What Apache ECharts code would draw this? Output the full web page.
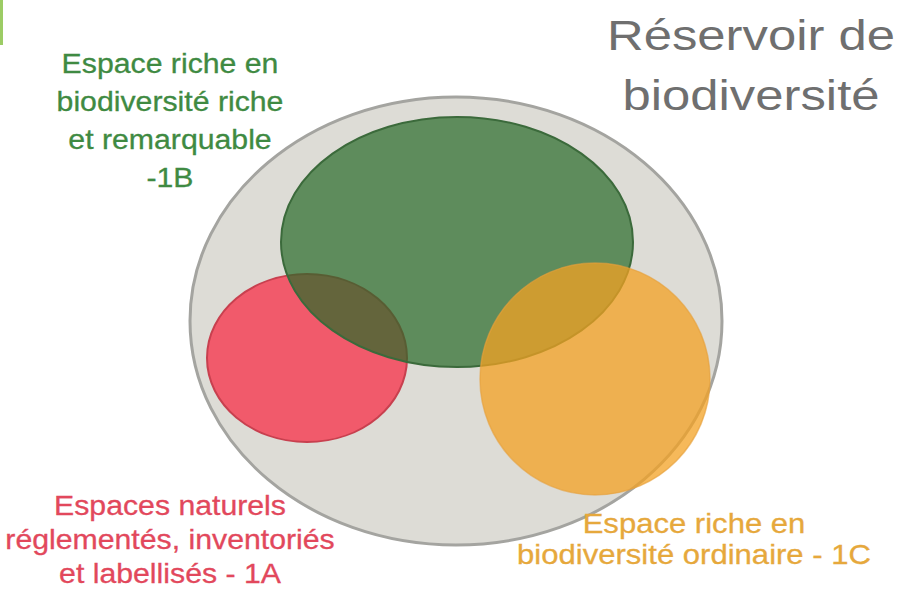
<!DOCTYPE html>
<html>
<head>
<meta charset="utf-8">
<script src="https://cdn.jsdelivr.net/npm/echarts@6/dist/echarts.min.js"></script>
<style>
html,body{margin:0;padding:0;background:#ffffff;}
#chart{width:907px;height:595px;}
</style>
</head>
<body>
<div id="chart"></div>
<script>
// ---- data ----
const setNames = ['Réservoir de biodiversité', '1A', '1B', '1C'];
const centerX = [456, 307, 457, 595];
const centerY = [321, 358, 242, 379];
const radiusX = [266, 100, 176, 115];
const radiusY = [224, 84, 125, 116];

const titleLines = ['Réservoir de', 'biodiversité'];
const label1B = ['Espace riche en', 'biodiversité riche', 'et remarquable', '-1B'];
const label1A = ['Espaces naturels', 'réglementés, inventoriés', 'et labellisés - 1A'];
const label1C = ['Espace riche en', 'biodiversité ordinaire - 1C'];

// ---- styles ----
const fills = ['#dddcd6', '#f15a6b', 'rgba(40,106,40,0.7)', 'rgba(243,161,35,0.75)'];
const strokes = ['#a4a4a0', '#c8404f', '#3b6a3b', 'rgba(230,160,60,0.6)'];
const strokeW = [3, 2, 2, 1.5];

const FONT = '"Liberation Sans", Arial, Helvetica, sans-serif';

const chart = echarts.init(document.getElementById('chart'), null, {renderer: 'svg'});

const seriesData = setNames.map((n, i) => [centerX[i], centerY[i], radiusX[i], radiusY[i], i]);

function textEl(lines, x, y, size, lh, color, sx, sw) {
  return {
    type: 'text',
    x: x, y: y,
    scaleX: sx,
    style: {
      text: lines.join('\n'),
      font: size + 'px ' + FONT,
      fill: color,
      stroke: color,
      lineWidth: sw,
      textAlign: 'center',
      textVerticalAlign: 'middle',
      lineHeight: lh
    },
    z: 10
  };
}

const option = {
  animation: false,
  backgroundColor: '#ffffff',
  grid: {left: 0, right: 0, top: 0, bottom: 0},
  xAxis: {type: 'value', min: 0, max: 907, show: false},
  yAxis: {type: 'value', min: 0, max: 595, inverse: true, show: false},
  series: [{
    type: 'custom',
    data: seriesData,
    renderItem: function (params, api) {
      const c = api.coord([api.value(0), api.value(1)]);
      const s = api.size([api.value(2), api.value(3)]);
      const i = api.value(4);
      return {
        type: 'ellipse',
        shape: {cx: c[0], cy: c[1], rx: s[0], ry: s[1]},
        style: {fill: fills[i], stroke: strokes[i], lineWidth: strokeW[i]}
      };
    }
  }],
  graphic: [
    {type: 'rect', shape: {x: 0, y: 0, width: 3, height: 45}, style: {fill: '#9ccc65'}},
    textEl([titleLines[0]], 751, 36, 42, 57, '#6f6f6f', 1.21, 0),
    textEl([titleLines[1]], 751, 96, 42, 57, '#6f6f6f', 1.21, 0),
    textEl(label1B, 170, 120, 27.5, 38, '#3f8a42', 1.1, 0.3),
    textEl(label1A, 170, 539, 27.5, 34, '#e2485c', 1.1, 0.3),
    textEl(label1C, 694, 539, 27.5, 31, '#e6a83c', 1.13, 0.3)
  ]
};
chart.setOption(option);
</script>
</body>
</html>
